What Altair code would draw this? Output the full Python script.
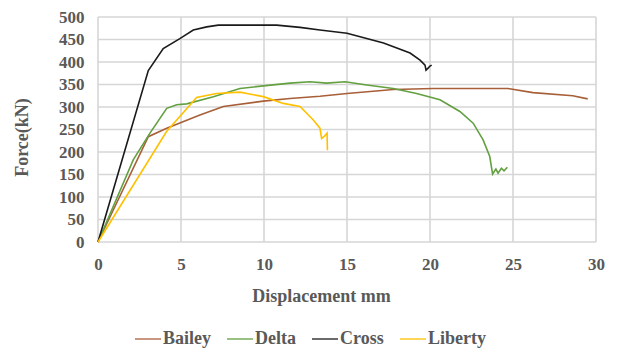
import altair as alt
import pandas as pd

bailey_x = [0, 3.03, 4.14, 6.14, 7.55, 9.96, 11.57, 13.37, 15.0, 17.79, 20.2, 24.7, 26.2, 28.6, 29.5]
bailey_y = [0, 234, 253, 282, 301, 313, 319, 324, 330, 339, 341, 341, 332, 325, 318]

delta_x = [0, 2.13, 3.13, 4.14, 4.74, 5.34, 6.95, 8.55, 9.96, 11.57, 12.77, 13.77, 14.88, 16.19, 17.79,
           19.19, 20.6, 21.8, 22.6, 23.2, 23.6, 23.77, 23.97, 24.1, 24.3, 24.46, 24.66]
delta_y = [0, 183, 242, 297, 305, 307, 323, 341, 347, 353, 356, 353, 356, 349, 341,
           330, 316, 290, 264, 227, 190, 151, 162, 153, 164, 158, 166]

cross_x = [0, 3.03, 3.93, 4.93, 5.74, 6.55, 7.25, 9.96, 10.76, 12.17, 13.37, 15.0, 17.2, 18.8, 19.4,
           19.7, 19.76, 19.9, 20.0, 20.1]
cross_y = [0, 381, 430, 452, 471, 478, 482, 482, 482, 477, 471, 464, 442, 420, 404,
           393, 382, 387, 391, 393]

liberty_x = [0, 4.12, 5.94, 7.14, 8.55, 9.96, 11.16, 12.17, 12.97, 13.37, 13.47, 13.61, 13.8, 13.82]
liberty_y = [0, 245, 321, 330, 333, 323, 308, 301, 271, 253, 230, 234, 242, 204]

x_ticks = [0, 5, 10, 15, 20, 25, 30]
y_ticks = [0, 50, 100, 150, 200, 250, 300, 350, 400, 450, 500]

series = ["Bailey", "Delta", "Cross", "Liberty"]
colors = ["#A85F38", "#62A040", "#1A1A1A", "#FFC000"]

rows = []
for name, xs, ys in [("Bailey", bailey_x, bailey_y), ("Delta", delta_x, delta_y),
                     ("Cross", cross_x, cross_y), ("Liberty", liberty_x, liberty_y)]:
    for i, (a, b) in enumerate(zip(xs, ys)):
        rows.append({"series": name, "x": a, "y": b, "i": i})
df = pd.DataFrame(rows)

font = "Liberation Serif"
gray = "#595959"
grid = "#D6D6D6"

xscale = alt.Scale(domain=[0, 30], nice=False)
yscale = alt.Scale(domain=[0, 500], nice=False)

axis_common = dict(grid=False, domain=False, ticks=False, labelFlush=False,
                   labelFont=font, labelFontSize=17, labelFontWeight="bold", labelColor=gray,
                   titleFont=font, titleFontSize=18, titleFontWeight="bold", titleColor=gray,
                   titleBaseline="middle", labelPadding=14)

xaxis = alt.Axis(values=x_ticks, title="Displacement mm",
                 titleX=223, titleY=54, titleAnchor="middle", **axis_common)
yaxis = alt.Axis(values=y_ticks, title="Force(kN)",
                 titleX=-76, titleY=120, titleAngle=-90, **axis_common)

vgrid = alt.Chart(pd.DataFrame({"x": x_ticks})).mark_rule(color=grid, strokeWidth=1.6).encode(
    x=alt.X("x:Q", scale=xscale, axis=xaxis)
)
hgrid = alt.Chart(pd.DataFrame({"y": y_ticks})).mark_rule(color=grid, strokeWidth=1.6).encode(
    y=alt.Y("y:Q", scale=yscale, axis=yaxis)
)

lines = alt.Chart(df).mark_line(strokeWidth=1.6).encode(
    x=alt.X("x:Q", scale=xscale, axis=xaxis),
    y=alt.Y("y:Q", scale=yscale, axis=yaxis),
    color=alt.Color("series:N", scale=alt.Scale(domain=series, range=colors),
                    legend=alt.Legend(title=None, orient="none", direction="horizontal",
                                      columns=4, legendX=36, legendY=308,
                                      symbolType="stroke", symbolSize=676, symbolStrokeWidth=1.3,
                                      labelFont=font, labelFontSize=18, labelFontWeight="bold",
                                      labelColor=gray, labelOffset=1, columnPadding=13)),
    order="i:Q",
    detail="series:N",
)

chart = alt.layer(vgrid, hgrid, lines).properties(
    width=498, height=225,
    padding={"left": 98, "top": 17, "right": 21, "bottom": 106},
    autosize=alt.AutoSizeParams(type="none"),
).configure_view(stroke=None)

chart.save("out.html", embed_options={"renderer": "svg", "actions": False})
